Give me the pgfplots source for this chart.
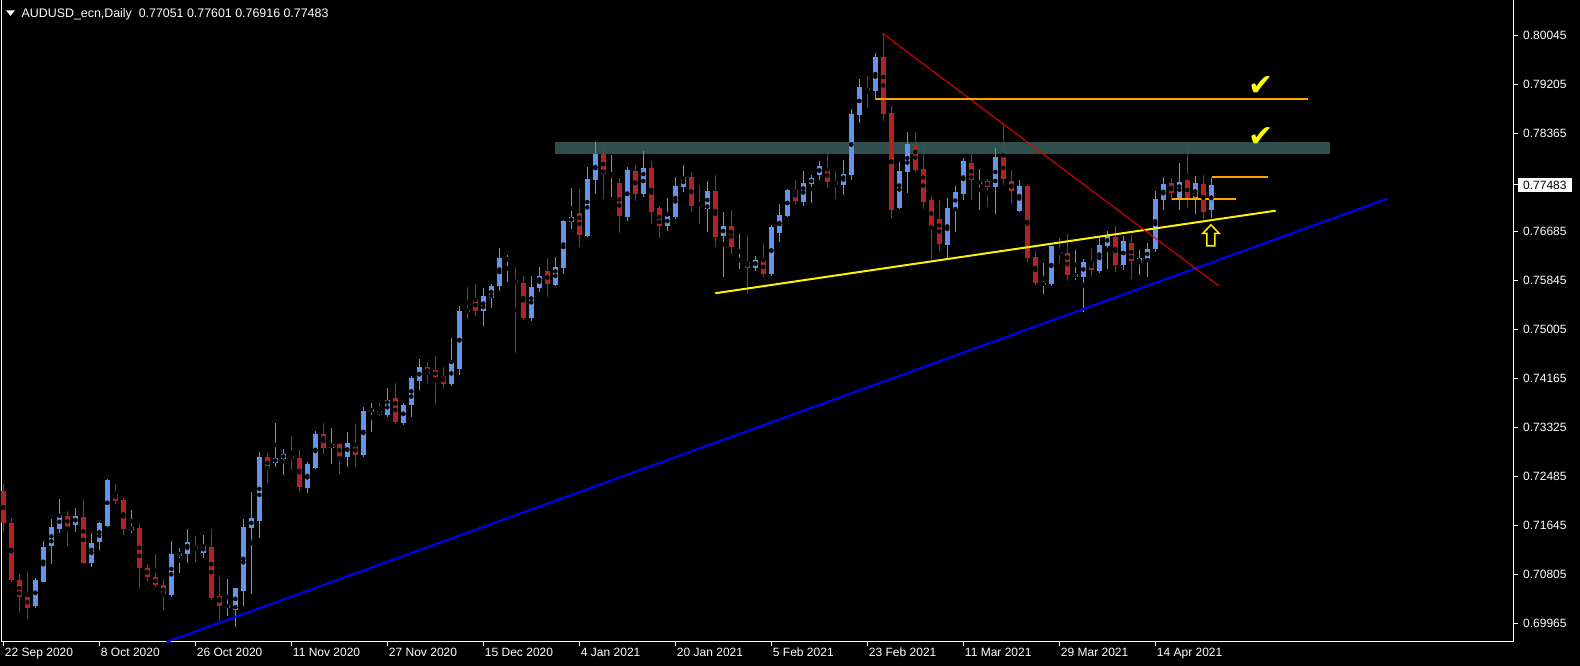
\documentclass[border=0pt]{standalone}
\usepackage{pgfplots}
\pgfplotsset{compat=1.18}
\usepackage{pgfplotstable}
\usepackage{fontspec}
\setmainfont{Liberation Sans}
\newfontfamily\dejavu{DejaVu Sans}
\definecolor{upc}{HTML}{6495ED}
\definecolor{dnc}{HTML}{B22222}
\definecolor{zone}{HTML}{2F4F4F}
\definecolor{orng}{HTML}{FFA500}
\definecolor{rline}{HTML}{E80000}
\definecolor{chk}{HTML}{FFFF00}

% bullish candles: index, open, high, low, close
\pgfplotstableread{
i O H L C
4 0.70273 0.70747 0.70238 0.70712
5 0.70684 0.71380 0.70670 0.71278
6 0.71300 0.71757 0.70992 0.71620
7 0.71592 0.72100 0.71523 0.71826
9 0.71660 0.71946 0.71540 0.71809
11 0.71009 0.71517 0.70941 0.71346
12 0.71369 0.71706 0.71232 0.71689
13 0.71643 0.72442 0.71626 0.72425
16 0.71574 0.71911 0.71523 0.71620
21 0.70461 0.71381 0.70427 0.71158
22 0.71130 0.71261 0.70833 0.71175
23 0.71164 0.71586 0.71010 0.71363
25 0.71181 0.71483 0.71095 0.71295
28 0.70239 0.70730 0.70101 0.70284
29 0.70199 0.70576 0.69913 0.70576
30 0.70530 0.71757 0.70273 0.71620
31 0.71608 0.72220 0.70478 0.71775
32 0.71729 0.72905 0.71438 0.72820
34 0.72717 0.73403 0.72649 0.72803
35 0.72785 0.72957 0.72518 0.72871
38 0.72295 0.72734 0.72209 0.72700
39 0.72632 0.73265 0.72620 0.73214
41 0.72980 0.73317 0.72706 0.73043
43 0.72826 0.73248 0.72654 0.73060
45 0.72860 0.73677 0.72826 0.73608
46 0.73597 0.73745 0.73254 0.73642
48 0.73542 0.74004 0.73507 0.73798
50 0.73410 0.73747 0.73370 0.73713
51 0.73713 0.74210 0.73507 0.74175
52 0.74124 0.74501 0.73970 0.74364
56 0.74073 0.74860 0.74038 0.74432
57 0.74330 0.75409 0.74227 0.75323
60 0.75323 0.75717 0.75066 0.75580
61 0.75546 0.75786 0.75374 0.75751
62 0.75751 0.76402 0.75666 0.76231
63 0.76200 0.76283 0.75822 0.76215
66 0.75205 0.75924 0.75153 0.75736
67 0.75718 0.76078 0.75650 0.75924
69 0.75770 0.76249 0.75753 0.76078
70 0.76061 0.76880 0.75958 0.76866
71 0.76849 0.77431 0.76729 0.76934
73 0.76609 0.77791 0.76592 0.77585
74 0.77568 0.78219 0.77328 0.78014
76 0.77655 0.77997 0.77277 0.77672
78 0.76934 0.77791 0.76866 0.77740
80 0.77328 0.78065 0.77277 0.77774
83 0.76780 0.77260 0.76694 0.76951
84 0.76934 0.77620 0.76900 0.77465
85 0.77448 0.77825 0.77363 0.77620
88 0.77071 0.77551 0.76677 0.77380
90 0.76609 0.77021 0.75907 0.76780
92 0.76190 0.76643 0.76044 0.76205
94 0.76061 0.76267 0.76010 0.76198
96 0.75960 0.76797 0.75920 0.76763
97 0.76661 0.77158 0.76507 0.76969
98 0.76952 0.77415 0.76935 0.77398
100 0.77192 0.77724 0.77124 0.77518
101 0.77501 0.77655 0.77175 0.77604
102 0.77655 0.77895 0.77569 0.77809
105 0.77484 0.77912 0.77312 0.77672
106 0.77655 0.78786 0.77569 0.78700
107 0.78683 0.79300 0.78546 0.79163
109 0.79094 0.79745 0.78940 0.79677
112 0.77089 0.77877 0.77072 0.77723
113 0.77706 0.78391 0.77346 0.78185
118 0.76455 0.77260 0.76198 0.77089
119 0.77072 0.77466 0.76678 0.77363
120 0.77329 0.77946 0.77226 0.77894
122 0.77506 0.77757 0.77055 0.77552
124 0.77449 0.78117 0.76986 0.77963
127 0.77037 0.77568 0.77020 0.77465
130 0.75780 0.76146 0.75615 0.75795
131 0.75787 0.76438 0.75752 0.76438
134 0.75907 0.76369 0.75855 0.75958
135 0.75907 0.76215 0.75307 0.76163
137 0.76009 0.76608 0.75975 0.76455
138 0.76438 0.76694 0.76044 0.76626
140 0.76112 0.76608 0.76026 0.76523
142 0.76148 0.76370 0.75942 0.76233
143 0.76216 0.76490 0.75900 0.76387
144 0.76387 0.77381 0.76336 0.77244
145 0.77227 0.77621 0.77055 0.77501
147 0.77261 0.77861 0.77055 0.77535
149 0.77227 0.77638 0.76987 0.77518
151 0.77051 0.77601 0.76916 0.77483
}\upbars

% bearish candles
\pgfplotstableread{
i O H L C
0 0.72237 0.72357 0.71540 0.71683
1 0.71689 0.71769 0.70684 0.70718
2 0.70712 0.70815 0.70153 0.70427
3 0.70421 0.70867 0.70050 0.70238
8 0.71809 0.71894 0.71300 0.71626
10 0.71792 0.72100 0.70992 0.71009
14 0.72203 0.72357 0.72020 0.72071
15 0.72083 0.72117 0.71489 0.71592
17 0.71603 0.71689 0.70564 0.70924
18 0.70918 0.70981 0.70701 0.70770
19 0.70764 0.71158 0.70587 0.70633
20 0.70627 0.70730 0.70205 0.70461
24 0.71295 0.71466 0.71027 0.71232
26 0.71278 0.71586 0.70376 0.70410
27 0.70438 0.70764 0.70010 0.70273
33 0.72815 0.72883 0.72381 0.72620
36 0.72837 0.73180 0.72603 0.72785
37 0.72803 0.72940 0.72227 0.72312
40 0.73214 0.73403 0.72877 0.72980
42 0.73043 0.73060 0.72535 0.72826
44 0.73008 0.73386 0.72654 0.72860
47 0.73608 0.73745 0.73525 0.73542
49 0.73833 0.74090 0.73388 0.73422
53 0.74364 0.74450 0.74090 0.74244
54 0.74313 0.74552 0.73713 0.74193
55 0.74210 0.74364 0.73987 0.74073
58 0.75357 0.75734 0.75186 0.75306
59 0.75528 0.75786 0.75237 0.75323
64 0.75855 0.76078 0.74610 0.75804
65 0.75804 0.75924 0.75170 0.75205
68 0.76010 0.76232 0.75564 0.75787
72 0.77003 0.77414 0.76420 0.76626
75 0.78014 0.78185 0.77243 0.77671
77 0.77517 0.77603 0.76661 0.76952
79 0.77722 0.77825 0.77208 0.77328
81 0.77774 0.77894 0.76814 0.77020
82 0.77089 0.77123 0.76574 0.76780
86 0.77620 0.77705 0.77020 0.77123
87 0.77155 0.77482 0.76814 0.77140
89 0.77380 0.77654 0.76420 0.76592
91 0.76780 0.77054 0.76301 0.76420
93 0.76163 0.76626 0.75633 0.76061
95 0.76200 0.76490 0.75900 0.75960
99 0.77398 0.77569 0.77158 0.77209
103 0.77758 0.78067 0.77432 0.77535
104 0.77552 0.77724 0.77243 0.77484
108 0.79145 0.79351 0.78803 0.79094
110 0.79677 0.80088 0.78580 0.78700
111 0.78717 0.78836 0.76918 0.77055
114 0.78168 0.78391 0.77706 0.77740
115 0.77757 0.78151 0.77072 0.77192
116 0.77226 0.77295 0.76215 0.76764
117 0.76901 0.77226 0.76353 0.76473
121 0.77860 0.78014 0.77226 0.77569
123 0.77552 0.77586 0.77106 0.77449
125 0.77963 0.78494 0.77483 0.77586
126 0.77551 0.77739 0.77174 0.77380
128 0.77465 0.77482 0.76163 0.76232
129 0.76249 0.76352 0.75769 0.75804
132 0.76335 0.76574 0.76146 0.76301
133 0.76318 0.76643 0.75838 0.75941
136 0.76163 0.76386 0.75907 0.76026
139 0.76592 0.76780 0.75992 0.76112
141 0.76489 0.76626 0.75872 0.76180
146 0.77518 0.77604 0.77227 0.77347
148 0.77569 0.78169 0.77089 0.77227
150 0.77501 0.77655 0.76901 0.77021
}\dnbars

\begin{document}
\begin{tikzpicture}
\fill[black] (0pt,0pt) rectangle (1580pt,666pt);
\useasboundingbox (0pt,0pt) rectangle (1580pt,666pt);
\begin{axis}[
  at={(2pt,24pt)}, anchor=south west,
  scale only axis, width=1512pt, height=643pt,
  xmin=-0.1625, xmax=188.84, ymin=0.69648, ymax=0.80671,
  clip=false,
  axis line style={white, line width=1pt},
  tick style={white, line width=1pt},
  tick align=outside, major tick length=4pt,
  xtick pos=left, ytick pos=right, yticklabel pos=right,
  xtick={0,12,24,36,48,60,72,84,96,108,120,132,144},
  xticklabels={22 Sep 2020,8 Oct 2020,26 Oct 2020,11 Nov 2020,27 Nov 2020,15 Dec 2020,4 Jan 2021,20 Jan 2021,5 Feb 2021,23 Feb 2021,11 Mar 2021,29 Mar 2021,14 Apr 2021},
  ytick={0.69965,0.70805,0.71645,0.72485,0.73325,0.74165,0.75005,0.75845,0.76685,0.78365,0.79205,0.80045},
  yticklabels={0.69965,0.70805,0.71645,0.72485,0.73325,0.74165,0.75005,0.75845,0.76685,0.78365,0.79205,0.80045},
  extra y ticks={0.77483}, extra y tick labels={},
  tick label style={text=white, font=\fontsize{12}{14}\selectfont},
  xticklabel style={anchor=north west, inner sep=0pt, xshift=1.5pt, yshift=-2pt},
  yticklabel style={anchor=west, inner sep=0pt, xshift=5pt},
]
% resistance zone
\addplot[fill=zone, draw=none] coordinates {(68.96,0.78014) (165.8,0.78014) (165.8,0.78219) (68.96,0.78219)} -- cycle;
% wicks
\addplot[only marks, mark=none, error bars/.cd, y dir=both, y explicit, error mark=none,
  error bar style={line width=1pt, color=upc}]
  table[x=i, y expr={(\thisrow{H}+\thisrow{L})/2}, y error expr={(\thisrow{H}-\thisrow{L})/2}] {\upbars};
\addplot[only marks, mark=none, error bars/.cd, y dir=both, y explicit, error mark=none,
  error bar style={line width=1pt, color=dnc}]
  table[x=i, y expr={(\thisrow{H}+\thisrow{L})/2}, y error expr={(\thisrow{H}-\thisrow{L})/2}] {\dnbars};
% bodies
\addplot[only marks, mark=none, error bars/.cd, y dir=both, y explicit, error mark=none,
  error bar style={line width=5pt, color=upc}]
  table[x=i, y expr={(\thisrow{O}+\thisrow{C})/2}, y error expr={abs(\thisrow{C}-\thisrow{O})/2}] {\upbars};
\addplot[only marks, mark=none, error bars/.cd, y dir=both, y explicit, error mark=none,
  error bar style={line width=5pt, color=dnc}]
  table[x=i, y expr={(\thisrow{O}+\thisrow{C})/2}, y error expr={abs(\thisrow{C}-\thisrow{O})/2}] {\dnbars};
% trend lines
\addplot[blue, line width=2pt] coordinates {(20.4,0.69648) (173.05,0.77251)};
\addplot[yellow, line width=2pt] coordinates {(89.0,0.75627) (159.05,0.77042)};
\addplot[rline, line width=1pt] coordinates {(109.9,0.80083) (152.0,0.75747)};
\addplot[orng, line width=2pt] coordinates {(109.1,0.78962) (163.05,0.78962)};
\addplot[orng, line width=2pt] coordinates {(151.1,0.77624) (158.05,0.77624)};
\addplot[orng, line width=2pt] coordinates {(146.05,0.77247) (154.05,0.77247)};
% check marks and arrow
\node[text=chk, font=\dejavu\fontsize{30}{30}\selectfont, inner sep=0pt] at (axis cs:157.2,0.79179) {✔};
\node[text=chk, font=\dejavu\fontsize{30}{30}\selectfont, inner sep=0pt] at (axis cs:157.2,0.78305) {✔};
\draw[yellow, line width=1.5pt, fill=black, line join=miter, shift={(axis cs:150.96,0.76618)}]
  (0pt,10.6pt) -- (8.1pt,2.1pt) -- (4.0pt,2.1pt) -- (4.0pt,-10.5pt) -- (-4.0pt,-10.5pt) -- (-4.0pt,2.1pt) -- (-8.1pt,2.1pt) -- cycle;
% current price label
\node[fill=white, text=black, anchor=west, inner xsep=5pt, inner ysep=0pt, minimum height=14pt,
  font=\fontsize{12}{14}\selectfont, xshift=4pt] at (axis cs:188.84,0.77483) {0.77483};
\end{axis}
\fill[white] (6pt,655.7pt) -- (15pt,655.7pt) -- (10.5pt,650.2pt) -- cycle;
\node[anchor=base west, inner sep=0pt, text=white, font=\fontsize{12.4}{14}\selectfont] at (21.5pt,648.7pt) {AUDUSD\_ecn,Daily\ \ 0.77051 0.77601 0.76916 0.77483};
\end{tikzpicture}
\end{document}
